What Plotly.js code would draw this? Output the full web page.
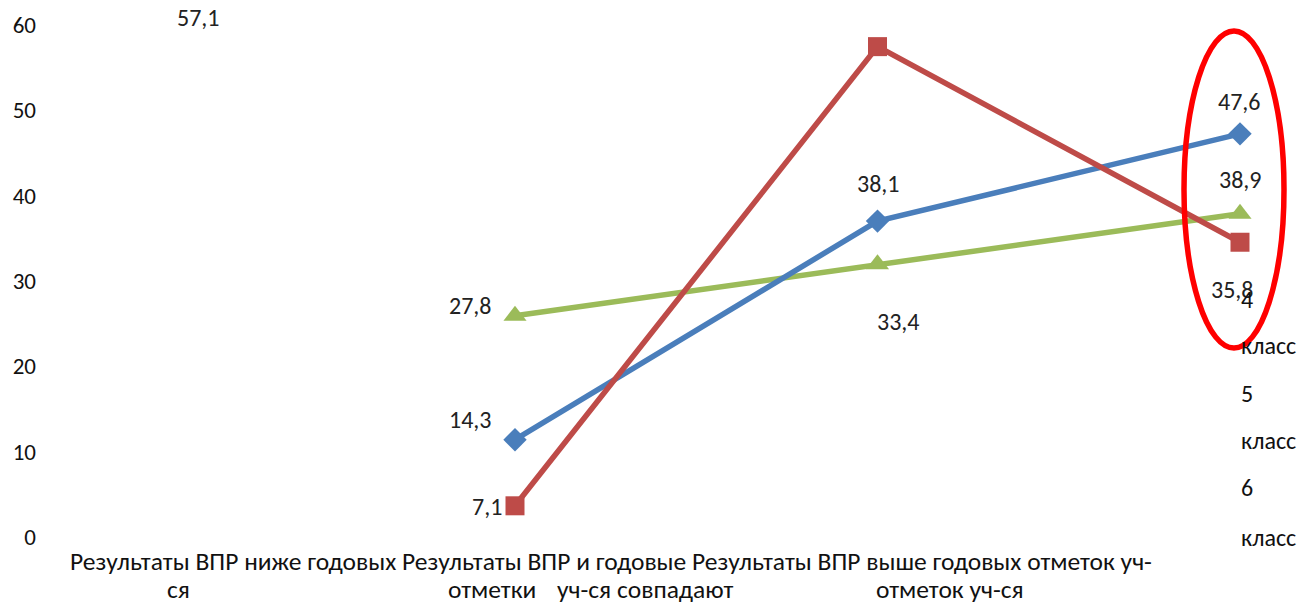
<!DOCTYPE html>
<html>
<head>
<meta charset="utf-8">
<script src="https://cdn.plot.ly/plotly-3.0.1.min.js"></script>
<style>html,body{margin:0;padding:0;background:#fff;}#chart{width:1298px;height:607px;}</style>
</head>
<body>
<div id="chart"></div>
<script>
const categories = [
  "Результаты ВПР ниже годовых отметок уч-ся",
  "Результаты ВПР и годовые отметки уч-ся совпадают",
  "Результаты ВПР выше годовых отметок уч-ся"
];
const catIdx = [0, 1, 2];
const seriesNames = ["4 класс", "5 класс", "6 класс"];
const grade4 = [14.3, 38.1, 47.6];
const grade5 = [7.1, 57.1, 35.8];
const grade6 = [27.8, 33.4, 38.9];
const yTicks = [0, 10, 20, 30, 40, 50, 60];

const FONT = "Carlito, Lato, 'Open Sans', sans-serif";
const L = 40, R = 8, T = 20, B = 36, W = 1298, H = 607;
const PW = W - L - R, PH = H - T - B;
const px = x => (x - L) / PW;
const py = y => (H - B - y) / PH;
const fmt = v => v.toFixed(1).replace(".", ",");

const traces = [
  {x: catIdx, y: grade6, name: seriesNames[2], type: "scatter", mode: "lines+markers",
   line: {color: "#9bbb59", width: 5.5}, marker: {symbol: "triangle-up", size: 20, color: "#9bbb59"}},
  {x: catIdx, y: grade4, name: seriesNames[0], type: "scatter", mode: "lines+markers",
   line: {color: "#4a7ebb", width: 5.5}, marker: {symbol: "diamond", size: 18, color: "#4a7ebb"}},
  {x: catIdx, y: grade5, name: seriesNames[1], type: "scatter", mode: "lines+markers",
   line: {color: "#be4b48", width: 5.5}, marker: {symbol: "square", size: 19, color: "#be4b48"}},
  {x: [0], y: [0], yaxis: "y2", type: "scatter", mode: "markers", marker: {opacity: 0}, hoverinfo: "skip", showlegend: false}
];

// label offsets (pixels) relative to points
const labelShift = {
  g4: [[-45, 20], [0, 38], [-1, 32]],
  g5: [[-28, -1], [-680, 29], [-8, -47]],
  g6: [[-45, 10], [20, -57], [0, 34]]
};
const annotations = [];
function addLabels(vals, shifts) {
  vals.forEach((v, i) => annotations.push({
    x: catIdx[i], y: v, xref: "x", yref: "y", text: fmt(v), showarrow: false,
    xanchor: "center", yanchor: "middle",
    xshift: shifts[i][0], yshift: shifts[i][1],
    font: {family: FONT, size: 24, color: "#222"}
  }));
}
addLabels(grade4, labelShift.g4);
addLabels(grade5, labelShift.g5);
addLabels(grade6, labelShift.g6);

// category labels (broken wrap as in the original)
const catLine1 = categories[0].replace(" отметок уч-ся", "") + " " +
  categories[1].replace(" отметки уч-ся совпадают", "") + " " +
  categories[2].replace(" уч-ся", "") + " уч-";
annotations.push({x: px(611), y: py(561), xref: "paper", yref: "paper", text: catLine1, showarrow: false,
  xanchor: "center", yanchor: "middle", font: {family: FONT, size: 25.5, color: "#111"}});
const catLine2 = [["ся", 178], ["отметки", 492], ["уч-ся совпадают", 645], ["отметок уч-ся", 950]];
catLine2.forEach(([t, x]) => annotations.push({x: px(x), y: py(589), xref: "paper", yref: "paper", text: t,
  xanchor: "center", yanchor: "middle", showarrow: false, font: {family: FONT, size: 25.5, color: "#111"}}));

// legend text (no symbols)
const legendLines = [];
seriesNames.forEach(n => { const p = n.split(" "); legendLines.push(p[0], p[1]); });
const legendY = [299, 345, 393, 440, 487, 537];
legendLines.forEach((t, i) => annotations.push({x: px(1239), y: py(legendY[i]), xref: "paper", yref: "paper",
  xanchor: "left", yanchor: "middle", text: t, showarrow: false, font: {family: FONT, size: 24, color: "#111"}}));

const layout = {
  width: W, height: H,
  margin: {l: L, r: R, t: T, b: B},
  paper_bgcolor: "#fff", plot_bgcolor: "#fff",
  showlegend: false,
  xaxis: {range: [-(515 - L) / 362.5, -(515 - L) / 362.5 + PW / 362.5], showgrid: false, zeroline: false,
          showticklabels: false, showline: false, fixedrange: true},
  yaxis: {range: [0, 60], showgrid: false, zeroline: false, showticklabels: false, showline: false},
  yaxis2: {overlaying: "y", side: "left", range: [-34 / 8.5333, 60 + 5 / 8.5333], tickvals: yTicks,
           ticktext: yTicks.map(String), showgrid: false, zeroline: false, showline: false, ticks: "",
           ticklabelstandoff: 3, tickfont: {family: FONT, size: 23, color: "#111"}},
  shapes: [{type: "circle", xref: "paper", yref: "paper", x0: px(1184), x1: px(1284), y0: py(348), y1: py(31),
            line: {color: "#ff0000", width: 5.5}}],
  annotations: annotations
};
Plotly.newPlot("chart", traces, layout, {displayModeBar: false, staticPlot: true});
</script>
</body>
</html>
